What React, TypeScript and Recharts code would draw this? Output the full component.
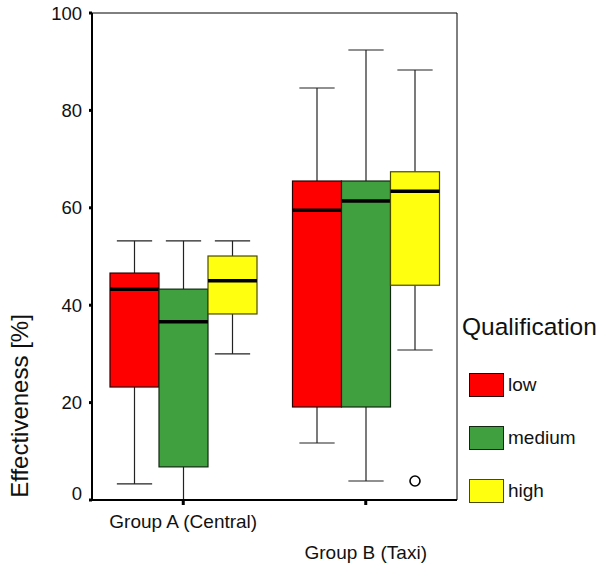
import { Bar, ComposedChart, Legend, XAxis, YAxis } from 'recharts'

// [min, q1, median, q3, max] per group
const groups = ['Group A (Central)', 'Group B (Taxi)']
const levels = ['low', 'medium', 'high']
const lowBox = [
  [3.3, 23.2, 43.3, 46.6, 53.2],
  [11.7, 19.1, 59.5, 65.5, 84.6],
]
const mediumBox = [
  [0, 6.8, 36.6, 43.3, 53.2],
  [3.9, 19.1, 61.4, 65.5, 92.4],
]
const highBox = [
  [30.0, 38.2, 45.0, 50.1, 53.2],
  [30.8, 44.1, 63.4, 67.4, 88.3],
]
const highOutliers = [[], [3.9]]
const yTicks = [0, 20, 40, 60, 80, 100]

const font = '"Liberation Sans", Arial, sans-serif'
const ink = '#111'

const fills: Record<string, string> = { low: '#ff0000', medium: '#40a040', high: '#ffff10' }
const edges: Record<string, string> = { low: '#2a0000', medium: '#102810', high: '#4a4a00' }

const rows = groups.map((group, i) => ({
  group,
  low: lowBox[i],
  medium: mediumBox[i],
  high: highBox[i],
  outliers: { low: [] as number[], medium: [] as number[], high: highOutliers[i] },
}))

function makeBoxShape(level: string) {
  return (props: any) => {
    const { x, y, width, height, payload } = props
    const s: number[] = payload[level]
    const top = Math.min(y, y + height)
    const bottom = Math.max(y, y + height)
    // pixels per unit, taken from the box the bar scale placed
    const k = (bottom - top) / (s[3] - s[1])
    const py = (v: number) => bottom - (v - s[1]) * k
    const cx = x + width / 2
    const cap = width * 0.36
    const outs: number[] = payload.outliers[level] || []
    return (
      <g>
        <line x1={cx} x2={cx} y1={top} y2={py(s[4])} stroke="#222" strokeWidth={1.2} />
        <line x1={cx - cap} x2={cx + cap} y1={py(s[4])} y2={py(s[4])} stroke="#222" strokeWidth={1.2} />
        <line x1={cx} x2={cx} y1={bottom} y2={py(s[0])} stroke="#222" strokeWidth={1.2} />
        <line x1={cx - cap} x2={cx + cap} y1={py(s[0])} y2={py(s[0])} stroke="#222" strokeWidth={1.2} />
        <rect x={x} y={top} width={width} height={bottom - top} fill={fills[level]} stroke={edges[level]} strokeWidth={1.2} />
        <line x1={x} x2={x + width} y1={py(s[2])} y2={py(s[2])} stroke="#000" strokeWidth={3.5} />
        {outs.map((v, j) => (
          <circle key={j} cx={cx} cy={py(v)} r={5} fill="#fff" stroke="#000" strokeWidth={1.6} />
        ))}
      </g>
    )
  }
}

function YTick(props: any) {
  const { x, y, payload } = props
  return (
    <text x={x} y={payload.value === 0 ? y - 7 : y} dy="0.36em" textAnchor="end" fontSize={18.5} fontFamily={font} fill={ink}>
      {payload.value}
    </text>
  )
}

function XTick(props: any) {
  const { x, y, payload, index } = props
  return (
    <text x={x} y={y} dy={index === 0 ? 21 : 52} textAnchor="middle" fontSize={19} fontFamily={font} fill={ink}>
      {payload.value}
    </text>
  )
}

function LegendBox() {
  return (
    <div style={{ fontFamily: font, color: ink }}>
      <div style={{ fontSize: 24.5, lineHeight: '30px', marginBottom: 31 }}>Qualification</div>
      {levels.map((lv) => (
        <div key={lv} style={{ display: 'flex', alignItems: 'center', height: 24, marginBottom: 29, marginLeft: 7 }}>
          <div style={{ width: 33, height: 22, background: fills[lv], border: `1px solid ${edges[lv]}` }} />
          <span style={{ fontSize: 19, marginLeft: 4 }}>{lv}</span>
        </div>
      ))}
    </div>
  )
}

export default function App() {
  return (
    <div style={{ position: 'absolute', left: 0, top: 0, background: '#fff' }}>
      <ComposedChart
        width={605}
        height={563}
        data={rows}
        margin={{ top: 12, right: 147, bottom: 33, left: 0 }}
        barGap={0}
        barSize={49}
      >
        <XAxis
          dataKey="group"
          height={30}
          tick={<XTick />}
          tickSize={5}
          tickLine={{ stroke: '#000', strokeWidth: 3 }}
          axisLine={{ stroke: '#000', strokeWidth: 2 }}
          interval={0}
        />
        <XAxis
          xAxisId="top"
          dataKey="group"
          orientation="top"
          height={1}
          tick={false}
          tickLine={false}
          axisLine={{ stroke: '#000', strokeWidth: 1 }}
        />
        <YAxis
          width={92}
          domain={[0, 100]}
          ticks={yTicks}
          tick={<YTick />}
          tickSize={3}
          tickMargin={7}
          tickLine={{ stroke: '#000', strokeWidth: 3 }}
          axisLine={{ stroke: '#000', strokeWidth: 2 }}
          label={{
            content: () => (
              <text x={19} y={406} transform="rotate(-90 19 406)" textAnchor="middle" dominantBaseline="central" fontSize={24} fontFamily={font} fill={ink}>
                Effectiveness [%]
              </text>
            ),
          }}
        />
        <YAxis
          yAxisId="right"
          orientation="right"
          width={1}
          domain={[0, 100]}
          tick={false}
          tickLine={false}
          axisLine={{ stroke: '#000', strokeWidth: 1 }}
        />
        <Legend
          layout="vertical"
          align="center"
          verticalAlign="middle"
          content={() => <LegendBox />}
          wrapperStyle={{ position: 'absolute', left: 462, top: 312, width: 143 }}
        />
        {levels.map((lv) => (
          <Bar
            key={lv}
            name={lv}
            dataKey={(d: any) => [d[lv][1], d[lv][3]]}
            fill={fills[lv]}
            shape={makeBoxShape(lv)}
            isAnimationActive={false}
          />
        ))}
      </ComposedChart>
    </div>
  )
}
